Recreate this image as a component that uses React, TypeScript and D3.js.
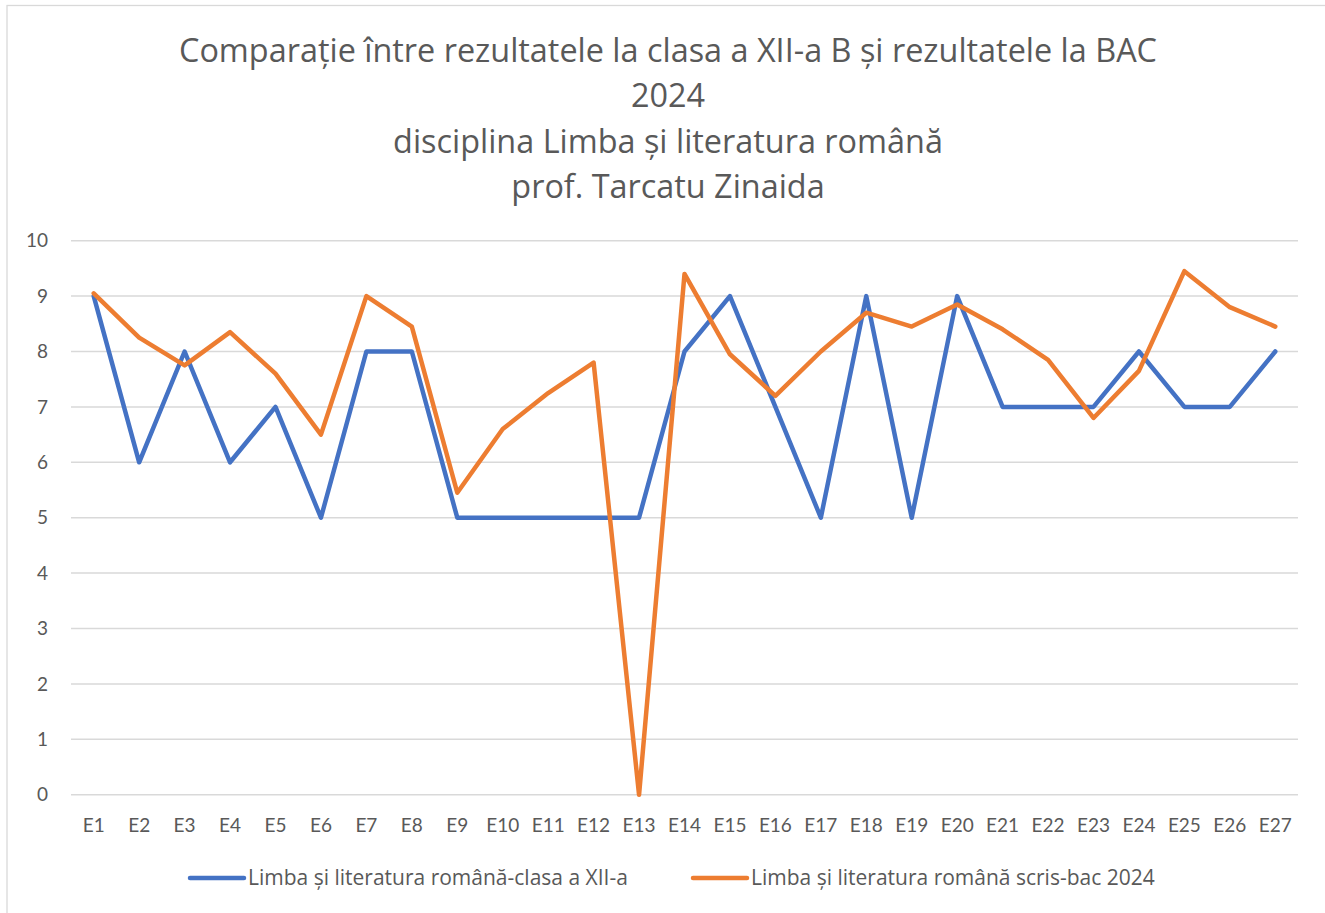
import React, { useEffect, useRef } from "react";
import * as d3 from "d3";

const titleLines = [
  "Comparație între rezultatele la clasa a XII-a B și rezultatele la BAC",
  "2024",
  "disciplina Limba și literatura română",
  "prof. Tarcatu Zinaida",
];

const categories = [
  "E1", "E2", "E3", "E4", "E5", "E6", "E7", "E8", "E9", "E10", "E11", "E12", "E13", "E14",
  "E15", "E16", "E17", "E18", "E19", "E20", "E21", "E22", "E23", "E24", "E25", "E26", "E27",
];

const clasaValues = [9, 6, 8, 6, 7, 5, 8, 8, 5, 5, 5, 5, 5, 8, 9, 7, 5, 9, 5, 9, 7, 7, 7, 8, 7, 7, 8];

const bacValues = [
  9.05, 8.25, 7.75, 8.35, 7.6, 6.5, 9, 8.45, 5.45, 6.6, 7.25, 7.8, 0, 9.4,
  7.95, 7.2, 8, 8.7, 8.45, 8.85, 8.4, 7.85, 6.8, 7.65, 9.45, 8.8, 8.45,
];

const yTicks = [0, 1, 2, 3, 4, 5, 6, 7, 8, 9, 10];

const seriesNames = [
  "Limba și literatura română-clasa a XII-a",
  "Limba și literatura română scris-bac 2024",
];

const colors = ["#4472C4", "#ED7D31"];

const drawChart = (el: SVGSVGElement) => {
  const dims = { width: 1325, height: 913 };
  const plot = { left: 71, right: 1298, top: 240.7, bottom: 794.7 };
  const font = "'Open Sans', sans-serif";
  const axisFont = "Lato, sans-serif";
  const textColor = "#595959";

  const svg = d3.select(el);
  svg.selectAll("*").remove();

  svg.append("rect").attr("width", dims.width).attr("height", dims.height).attr("fill", "#fff");

  // chart area border
  svg
    .append("rect")
    .attr("x", 7)
    .attr("y", 5.5)
    .attr("width", dims.width + 20)
    .attr("height", dims.height + 20)
    .attr("fill", "none")
    .attr("stroke", "#d9d9d9")
    .attr("stroke-width", 1.3);

  // title
  svg
    .append("g")
    .selectAll("text")
    .data(titleLines)
    .enter()
    .append("text")
    .attr("x", 668)
    .attr("y", (d, i) => 62 + i * 45.3)
    .attr("text-anchor", "middle")
    .attr("font-family", font)
    .attr("font-size", 32.4)
    .attr("fill", textColor)
    .text(d => d);

  const x = d3.scaleBand().domain(categories).range([plot.left, plot.right]);
  const y = d3.scaleLinear().domain([0, 10]).range([plot.bottom, plot.top]);
  const cx = (c: string) => (x(c) as number) + x.bandwidth() / 2;

  // gridlines
  svg
    .append("g")
    .selectAll("line")
    .data(yTicks)
    .enter()
    .append("line")
    .attr("x1", plot.left)
    .attr("x2", plot.right)
    .attr("y1", d => y(d))
    .attr("y2", d => y(d))
    .attr("stroke", "#d9d9d9")
    .attr("stroke-width", 1.5);

  // y labels
  svg
    .append("g")
    .selectAll("text")
    .data(yTicks)
    .enter()
    .append("text")
    .attr("x", 48)
    .attr("y", d => y(d))
    .attr("dy", "0.35em")
    .attr("text-anchor", "end")
    .attr("font-family", axisFont)
    .attr("font-size", 19)
    .attr("fill", textColor)
    .text(d => d);

  // x labels
  svg
    .append("g")
    .selectAll("text")
    .data(categories)
    .enter()
    .append("text")
    .attr("x", d => cx(d))
    .attr("y", 832)
    .attr("text-anchor", "middle")
    .attr("font-family", axisFont)
    .attr("font-size", 19)
    .attr("fill", textColor)
    .text(d => d);

  const line = d3
    .line<number>()
    .x((d, i) => cx(categories[i]))
    .y(d => y(d));

  [clasaValues, bacValues].forEach((vals, si) => {
    svg
      .append("path")
      .datum(vals)
      .attr("fill", "none")
      .attr("stroke", colors[si])
      .attr("stroke-width", 4.5)
      .attr("stroke-linejoin", "round")
      .attr("stroke-linecap", "round")
      .attr("d", line);
  });

  // legend
  const legendX = [190, 693];
  const legend = svg
    .append("g")
    .selectAll("g")
    .data(seriesNames)
    .enter()
    .append("g")
    .attr("transform", (d, i) => `translate(${legendX[i]}, 878)`);

  legend
    .append("line")
    .attr("x1", 0)
    .attr("x2", 54)
    .attr("stroke", (d, i) => colors[i])
    .attr("stroke-width", 4.5)
    .attr("stroke-linecap", "round");

  legend
    .append("text")
    .attr("x", 58)
    .attr("dy", "0.35em")
    .attr("font-family", font)
    .attr("font-size", 21)
    .attr("fill", textColor)
    .text(d => d);
};

function App() {
  const ref = useRef<SVGSVGElement>(null);
  useEffect(() => {
    if (ref.current) drawChart(ref.current);
  }, []);
  return (
    <svg
      ref={ref}
      width={1325}
      height={913}
      style={{ position: "absolute", left: 0, top: 0, display: "block" }}
    />
  );
}

export default App;
